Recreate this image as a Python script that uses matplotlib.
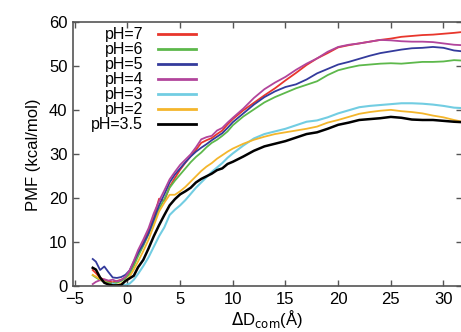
import numpy as np
import matplotlib
matplotlib.use("Agg")
import matplotlib.pyplot as plt

plt.rcParams['font.family'] = ['Liberation Sans', 'DejaVu Sans']

# reaction coordinate (Angstrom)
d_com = [-3.3, -3.0, -2.6, -2.2, -1.8, -1.4, -1.0, -0.6, -0.2, 0.2, 0.6, 1.0, 1.5, 2.0,
         2.5, 3.0, 3.5, 4.0, 4.5, 5.0, 5.5, 6, 6.5, 7, 7.5, 8, 8.5, 9, 9.5, 10, 11, 12,
         13, 14, 15, 16, 17, 18, 19, 20, 21, 22, 23, 24, 25, 26, 27, 28, 29, 30, 31, 31.8]

pmf_ph7 = [3.7, 3.0, 1.9, 1.5, 1.1, 0.9, 1.2, 1.5, 1.9, 3.2, 5.2, 7.4, 9.9, 12.6,
           15.6, 19.9, 19.4, 22.6, 24.6, 26.5, 28.1, 29.6, 31.0, 32.6, 33.2, 33.7, 34.6, 35.4, 36.8, 38.0, 40.0, 41.7,
           43.4, 45.0, 46.8, 48.5, 50.3, 51.8, 53.0, 54.3, 54.8, 55.2, 55.6, 56.0, 56.3, 56.7, 56.9, 57.1, 57.2, 57.4, 57.6, 57.8]
pmf_ph6 = [2.5, 2.0, 1.4, 1.1, 0.8, 0.6, 0.8, 1.2, 1.8, 2.8, 4.6, 6.8, 9.2, 11.8,
           14.6, 17.6, 19.8, 22.4, 24.0, 25.4, 26.8, 28.2, 29.4, 30.4, 31.6, 32.6, 33.3, 34.2, 35.2, 36.6, 38.6, 40.2,
           41.8, 43.0, 44.0, 45.0, 45.8, 46.6, 48.0, 49.1, 49.7, 50.2, 50.4, 50.6, 50.7, 50.6, 50.8, 51.0, 51.0, 51.1, 51.4, 51.3]
pmf_ph5 = [6.2, 5.6, 3.7, 4.5, 3.2, 2.0, 1.9, 2.1, 2.6, 3.6, 5.6, 7.6, 9.6, 12.0,
           15.2, 18.4, 20.9, 23.6, 25.4, 26.8, 28.2, 29.5, 30.6, 31.5, 32.3, 33.2, 34.0, 34.8, 36.0, 37.3, 39.3, 41.3,
           43.0, 44.3, 45.3, 45.9, 47.0, 48.4, 49.4, 50.4, 51.0, 51.7, 52.4, 53.0, 53.4, 53.8, 54.1, 54.2, 54.4, 54.2, 53.6, 53.4]
pmf_ph4 = [0.5, 1.0, 1.4, 1.6, 1.3, 1.5, 1.1, 1.4, 2.2, 3.6, 5.8, 8.2, 10.6, 13.2,
           16.6, 19.4, 21.8, 24.3, 26.0, 27.6, 28.8, 30.0, 31.6, 33.4, 33.9, 34.2, 35.4, 36.0, 37.2, 38.3, 40.4, 42.8,
           44.8, 46.3, 47.6, 49.2, 50.6, 51.8, 53.3, 54.4, 54.9, 55.2, 55.6, 56.0, 55.9, 55.7, 55.6, 55.6, 55.5, 55.2, 54.9, 54.8]
pmf_ph3 = [np.nan, np.nan, np.nan, np.nan, np.nan, 0.6, 0.3, 0.2, 0.3, 0.6, 1.5, 2.8, 4.6, 6.6,
           9.0, 11.4, 13.4, 16.2, 17.4, 18.4, 19.6, 21.0, 22.4, 23.6, 24.8, 26.0, 27.0, 28.0, 29.2, 30.2, 32.0, 33.6,
           34.6, 35.2, 35.8, 36.6, 37.4, 37.7, 38.4, 39.3, 40.0, 40.7, 41.0, 41.2, 41.4, 41.6, 41.6, 41.5, 41.3, 41.0, 40.6, 40.5]
pmf_ph2 = [2.6, 2.2, 1.6, 1.0, 0.5, 0.2, 0.3, 0.6, 1.2, 2.2, 3.8, 5.6, 8.0, 10.6,
           13.8, 17.0, 19.0, 20.8, 20.8, 21.6, 22.6, 23.8, 25.0, 26.2, 27.2, 28.0, 29.0, 29.8, 30.6, 31.3, 32.4, 33.3,
           34.0, 34.6, 35.0, 35.4, 35.8, 36.3, 37.2, 37.8, 38.5, 39.2, 39.6, 39.9, 40.1, 39.8, 39.6, 39.3, 38.8, 38.4, 37.8, 37.4]
pmf_ph35 = [4.2, 3.8, 2.0, 0.8, 0.4, 0.2, 0.2, 0.3, 1.2, 1.8, 2.4, 4.3, 6.0, 8.6,
            11.4, 13.9, 16.2, 18.4, 19.8, 20.9, 21.6, 22.4, 23.6, 24.4, 25.0, 25.6, 26.4, 26.8, 27.8, 28.3, 29.5, 30.8,
            31.8, 32.4, 33.0, 33.8, 34.6, 35.0, 35.8, 36.7, 37.2, 37.8, 38.0, 38.2, 38.5, 38.3, 37.9, 37.8, 37.8, 37.6, 37.4, 37.3]

series = [("pH=7", pmf_ph7, "#e8362c", 1.3),
          ("pH=6", pmf_ph6, "#5db84b", 1.3),
          ("pH=5", pmf_ph5, "#343b9c", 1.3),
          ("pH=4", pmf_ph4, "#b2459c", 1.3),
          ("pH=3", pmf_ph3, "#72cde2", 1.5),
          ("pH=2", pmf_ph2, "#f4b62c", 1.3),
          ("pH=3.5", pmf_ph35, "#000000", 1.8)]

fig = plt.figure(figsize=(4.61, 3.32), dpi=100)
ax = fig.add_axes([0.1584, 0.1377, 0.8436, 0.7951])

for label, vals, col, lw in series:
    ax.plot(d_com, vals, color=col, lw=lw, label=label)

ax.set_xlim(-5.17, 31.75)
ax.set_ylim(0, 60)
ax.set_xticks([-5, 0, 5, 10, 15, 20, 25, 30])
ax.set_yticks([0, 10, 20, 30, 40, 50, 60])
ax.tick_params(direction='in', length=4, width=1, color='#555555', labelsize=12,
               top=True, right=True, pad=4)
for s in ax.spines.values():
    s.set_color('#555555')
    s.set_linewidth(1.2)

ax.set_xlabel(r'$\Delta$D$_{\rm com}$(Å)', fontsize=12, labelpad=1)
ax.set_ylabel('PMF (kcal/mol)', fontsize=12, labelpad=6)

leg = ax.legend(loc='upper left', bbox_to_anchor=(0.01, 1.035), frameon=False,
                markerfirst=False, fontsize=11.5, labelspacing=0.0,
                handlelength=2.4, handletextpad=0.9)
for t in leg.get_texts():
    t.set_ha('right')
for h in leg.get_lines():
    h.set_linewidth(2.0)

fig.savefig('out.png', dpi=100)
